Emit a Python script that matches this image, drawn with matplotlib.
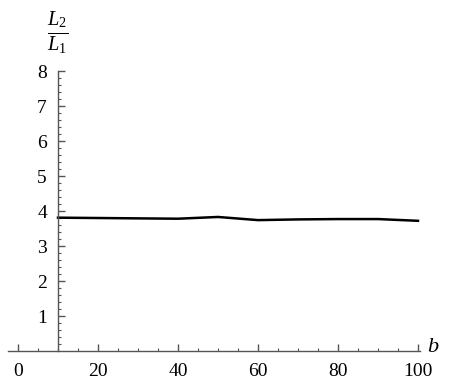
import numpy as np
import matplotlib
matplotlib.use('Agg')
import matplotlib.pyplot as plt
from matplotlib.ticker import FixedLocator

# values
b_vals = [10, 20, 30, 40, 50, 60, 70, 80, 90, 100]
ratio = [3.81, 3.80, 3.79, 3.78, 3.83, 3.74, 3.76, 3.77, 3.77, 3.72]
x_ticks = [0, 20, 40, 60, 80, 100]
y_ticks = [1, 2, 3, 4, 5, 6, 7, 8]

plt.rcParams['font.family'] = 'Liberation Serif'
plt.rcParams['mathtext.fontset'] = 'custom'
plt.rcParams['mathtext.it'] = 'Liberation Serif:italic'
plt.rcParams['mathtext.rm'] = 'Liberation Serif'

W, H = 457, 382
fig = plt.figure(figsize=(W / 100, H / 100), dpi=100)
ax = fig.add_axes([0, 0, 1, 1])
ax.set_xlim(-4.5, 109.75)
ax.set_ylim(-0.886, 10.03)

ax.plot(b_vals, ratio, color='black', lw=1.8)

axis_col = '#555555'
for s in ['top', 'right']:
    ax.spines[s].set_visible(False)
ax.spines['left'].set_position(('data', 10))
ax.spines['bottom'].set_position(('data', 0))
ax.spines['left'].set_bounds(0, 8)
ax.spines['bottom'].set_bounds(-2.5, 100.5)
for s in ['left', 'bottom']:
    ax.spines[s].set_color(axis_col)
    ax.spines[s].set_linewidth(1.0)

ax.set_xticks(x_ticks)
ax.set_yticks(y_ticks)
ax.xaxis.set_minor_locator(FixedLocator(np.arange(0, 101, 5)))
ax.yaxis.set_minor_locator(FixedLocator(np.arange(0.2, 8.01, 0.2)))
ax.tick_params(which='major', direction='in', length=5, width=1, color=axis_col,
               labelsize=14)
ax.tick_params(which='minor', direction='in', length=2.5, width=0.8, color=axis_col)
ax.tick_params(axis='x', pad=9)
ax.tick_params(axis='y', pad=8)

fig.text(58 / W, 1 - 33 / H, r'$\frac{L_2}{L_1}$', fontsize=21,
         ha='center', va='center')
fig.text(433 / W, 1 - 348 / H, 'b', fontsize=16, style='italic',
         ha='center', va='center')

fig.savefig('out.png', dpi=100)
